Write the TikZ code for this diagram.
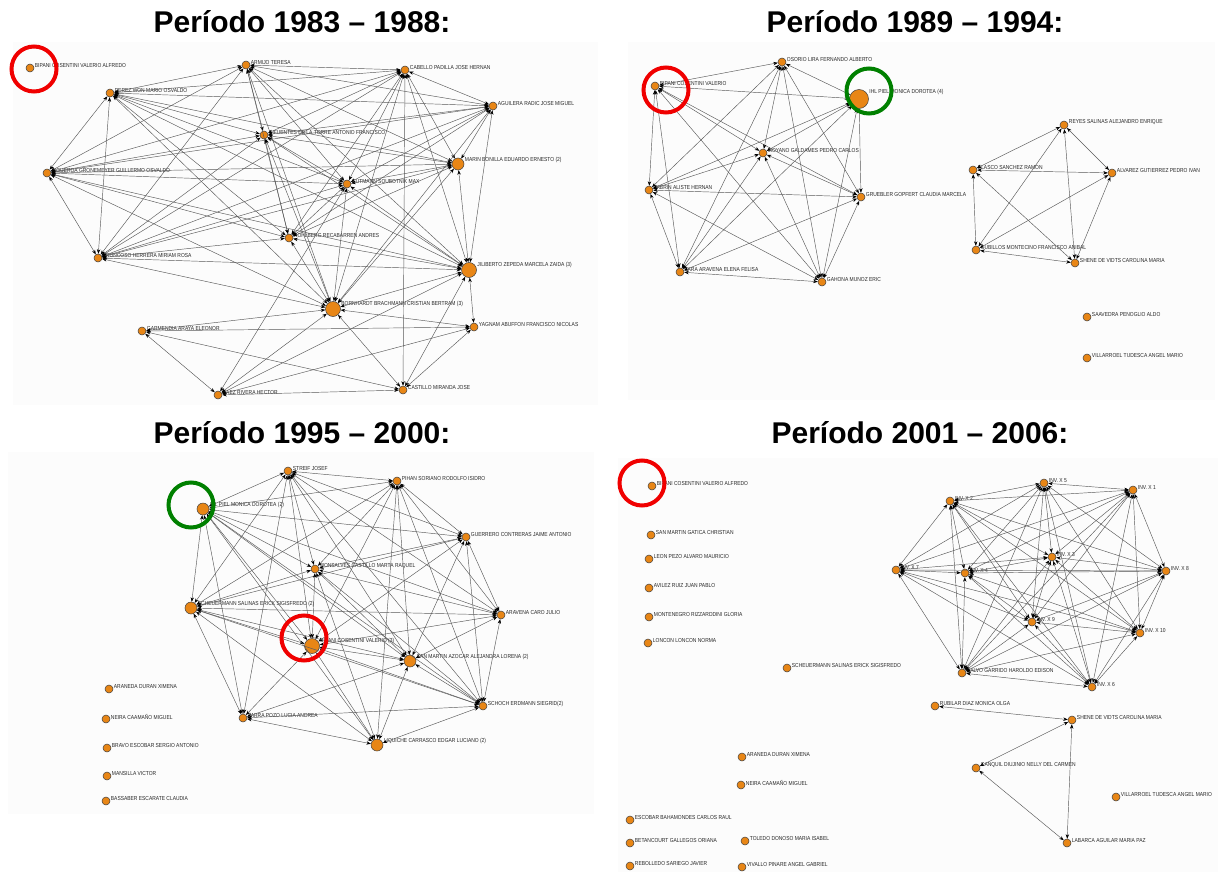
\documentclass[tikz,border=0pt]{standalone}
\usepackage{fontspec}
\setmainfont{Liberation Sans}
\newfontfamily\lblfont[FakeStretch=0.85]{Liberation Sans}
\usetikzlibrary{arrows.meta}
\definecolor{nodeorange}{RGB}{232,134,22}
\definecolor{ringred}{RGB}{240,0,0}
\definecolor{ringgreen}{RGB}{0,128,0}
\tikzset{
  actor/.style={circle, draw=black!75, fill=nodeorange, line width=0.5pt, inner sep=0pt},
  lbl/.style={font=\lblfont\fontsize{5.8}{6}\selectfont, inner sep=0.5pt, text=black!85},
  pt/.style={actor, minimum size=8pt, label={[lbl, yshift=2.5pt]east:#1}},
  ptb/.style={actor, minimum size=12pt, label={[lbl, yshift=4pt]east:#1}},
  ptc/.style={actor, minimum size=15pt, label={[lbl, yshift=5.5pt]east:#1}},
  ptd/.style={actor, minimum size=19pt, label={[lbl, yshift=7.5pt]east:#1}},
  tie/.style={<->, >={Stealth[length=4.5pt, width=3.4pt, color=black]}, draw=black!65, line width=0.45pt},
  ring/.style={circle, draw=#1, line width=4pt, minimum size=45pt, inner sep=0pt},
  title/.style={font=\bfseries\fontsize{30}{32}\selectfont, anchor=base, inner sep=0pt}
}
\begin{document}
\begin{tikzpicture}[x=1pt, y=-1pt]
  \useasboundingbox (0,0) rectangle (1220,872);
  \fill[black!1.2] (13,42) rectangle (598,405);
  \fill[black!1.2] (628,42) rectangle (1215,400);
  \fill[black!1.2] (8,452) rectangle (594,814);
  \fill[black!1.2] (618,458) rectangle (1218,872);

  \node[title] (t1) at (302,33) {Período 1983 – 1988:};
  \node[title] (t2) at (915,33) {Período 1989 – 1994:};
  \node[title] (t3) at (302,443) {Período 1995 – 2000:};
  \node[title] (t4) at (920,443) {Período 2001 – 2006:};

  % 1983 - 1988
  \node[pt=BIPANI COSENTINI VALERIO ALFREDO] (a1) at (30,68) {};
  \node[pt=ARMIJO  TERESA] (a2) at (246,65) {};
  \node[pt=CABELLO PADILLA JOSE HERNAN] (a3) at (405,70) {};
  \node[pt=AGUILERA RADIC JOSE MIGUEL] (a4) at (493,106) {};
  \node[pt=PEREZ WON MARIO OSVALDO] (a5) at (110,93) {};
  \node[pt=CIFUENTES DE LA TORRE  ANTONIO FRANCISCO] (a6) at (264,135) {};
  \node[ptb=MARIN BONILLA EDUARDO ERNESTO (2)] (a7) at (458,164) {};
  \node[pt=FIGUEROA GRONEMEYER GUILLERMO OSVALDO] (a8) at (47,173) {};
  \node[pt=GUTMANN SOUBOTNIK MAX] (a9) at (347,184) {};
  \node[pt=HOHLBERG RECABARREN ANDRES] (a10) at (289,238) {};
  \node[pt=TRONCOSO HERRERA MIRIAM ROSA] (a11) at (98,258) {};
  \node[ptc=JILIBERTO ZEPEDA MARCELA ZAIDA (3)] (a12) at (469,270) {};
  \node[ptc=BORNHARDT BRACHMANN CRISTIAN BERTRAM (3)] (a13) at (333,309) {};
  \node[pt=GARMENDIA ARAYA ELEONOR] (a14) at (142,331) {};
  \node[pt=YAGNAM ABUFFON FRANCISCO NICOLAS] (a15) at (474,327) {};
  \node[pt=SAEZ RIVERA  HECTOR] (a16) at (218,395) {};
  \node[pt=CASTILLO MIRANDA JOSE] (a17) at (403,390) {};
  \foreach \i [evaluate=\i as \k using int(\i+1)] in {2,...,12}
    \foreach \j in {\k,...,13}
      \draw[tie] (a\i) to (a\j);
  \foreach \u/\v in {a14/a13, a14/a15, a14/a17, a14/a16, a15/a12, a15/a13, a15/a16,
      a15/a17, a16/a13, a16/a17, a16/a12, a16/a9, a17/a13, a17/a12, a17/a3}
    \draw[tie] (\u) to (\v);

  % 1989 - 1994
  \node[pt=BIPANI COSENTINI VALERIO] (b1) at (655,86) {};
  \node[pt=OSORIO LIRA FERNANDO ALBERTO] (b2) at (782,62) {};
  \node[ptd=IHL PIEL MONICA DOROTEA (4)] (b3) at (859,99) {};
  \node[pt=MOYANO GALDAMES PEDRO CARLOS] (b4) at (763,153) {};
  \node[pt=LABRIN ALISTE HERNAN] (b5) at (649,190) {};
  \node[pt=GRUEBLER GOPFERT CLAUDIA MARCELA] (b6) at (861,197) {};
  \node[pt=LARA ARAVENA ELENA FELISA] (b7) at (680,272) {};
  \node[pt=GAHONA MUNOZ ERIC] (b8) at (822,282) {};
  \node[pt=REYES SALINAS ALEJANDRO ENRIQUE] (b9) at (1064,125) {};
  \node[pt=BLASCO SANCHEZ RAMON] (b10) at (973,170) {};
  \node[pt=ALVAREZ GUTIERREZ PEDRO IVAN] (b11) at (1112,173) {};
  \node[pt=CUBILLOS MONTECINO FRANCISCO ANIBAL] (b12) at (976,250) {};
  \node[pt=SHENE DE VIDTS CAROLINA MARIA] (b13) at (1075,263) {};
  \node[pt=SAAVEDRA PENOGLIO ALDO] (b14) at (1087,317) {};
  \node[pt=VILLARROEL TUDESCA ANGEL MARIO] (b15) at (1087,358) {};
  \foreach \i [evaluate=\i as \k using int(\i+1)] in {1,...,7}
    \foreach \j in {\k,...,8}
      \draw[tie] (b\i) to (b\j);
  \foreach \i [evaluate=\i as \k using int(\i+1)] in {9,...,12}
    \foreach \j in {\k,...,13}
      \draw[tie] (b\i) to (b\j);

  % 1995 - 2000
  \node[pt=STREIF  JOSEF] (c1) at (288,471) {};
  \node[pt=PIHAN SORIANO RODOLFO ISIDRO] (c2) at (397,481) {};
  \node[ptb=IHL PIEL  MONICA DOROTEA (2)] (c3) at (203,509) {};
  \node[pt=GUERRERO CONTRERAS JAIME ANTONIO] (c4) at (466,537) {};
  \node[pt=MONSALVES CASTILLO  MARTA RAQUEL] (c5) at (315,569) {};
  \node[ptb=SCHEUERMANN SALINAS ERICK SIGISFREDO (2)] (c6) at (191,608) {};
  \node[pt=ARAVENA CARO JULIO] (c7) at (501,615) {};
  \node[ptc=BIPANI COSENTINI VALERIO (3)] (c8) at (312,646) {};
  \node[ptb=SAN MARTIN AZOCAR ALEJANDRA LORENA (2)] (c9) at (410,661) {};
  \node[pt=SCHOCH ERDMANN SIEGRID(2)] (c10) at (483,706) {};
  \node[pt=PARRA POZO LUCIA ANDREA] (c11) at (243,718) {};
  \node[ptb=LIQUICHE CARRASCO EDGAR LUCIANO (2)] (c12) at (377,745) {};
  \node[pt=ARANEDA DURAN XIMENA] (c13) at (109,689) {};
  \node[pt=NEIRA CAAMAÑO MIGUEL] (c14) at (106,719) {};
  \node[pt=BRAVO ESCOBAR SERGIO ANTONIO] (c15) at (107,748) {};
  \node[pt=MANSILLA  VICTOR] (c16) at (107,776) {};
  \node[pt=BASSABER ESCARATE  CLAUDIA] (c17) at (106,801) {};
  \foreach \i [evaluate=\i as \k using int(\i+1)] in {1,...,9}
    \foreach \j in {\k,...,10}
      \draw[tie] (c\i) to (c\j);
  \foreach \u/\v in {c11/c1, c11/c3, c11/c6, c11/c8, c11/c9, c11/c10, c11/c12,
      c12/c2, c12/c3, c12/c5, c12/c6, c12/c8, c12/c9, c12/c10}
    \draw[tie] (\u) to (\v);

  % 2001 - 2006
  \node[pt=BIPANI COSENTINI VALERIO ALFREDO] (d1) at (652,486) {};
  \node[pt=SAN MARTIN GATICA CHRISTIAN] (d2) at (651,535) {};
  \node[pt=LEON PEZO ALVARO MAURICIO] (d3) at (649,559) {};
  \node[pt=AVILEZ RUIZ JUAN PABLO] (d4) at (649,588) {};
  \node[pt=MONTENEGRO RIZZARDDINI GLORIA] (d5) at (649,617) {};
  \node[pt=LONCON LONCON NORMA] (d6) at (648,643) {};
  \node[pt=SCHEUERMANN SALINAS ERICK SIGISFREDO] (d7) at (787,668) {};
  \node[pt=INV. X 7] (d8) at (896,570) {};
  \node[pt=INV. X 2] (d9) at (950,501) {};
  \node[pt=INV. X 5] (d10) at (1044,483) {};
  \node[pt=INV. X 1] (d11) at (1133,490) {};
  \node[pt=INV. X 3] (d12) at (1052,557) {};
  \node[pt=INV. X 4] (d13) at (965,573) {};
  \node[pt=INV. X 8] (d14) at (1166,571) {};
  \node[pt=INV. X 9] (d15) at (1032,622) {};
  \node[pt=INV. X 10] (d16) at (1140,633) {};
  \node[pt=SALVO GARRIDO HAROLDO EDISON] (d17) at (962,673) {};
  \node[pt=INV. X 6] (d18) at (1092,687) {};
  \node[pt=RUBILAR DIAZ MONICA OLGA] (d19) at (935,706) {};
  \node[pt=SHENE DE VIDTS CAROLINA MARIA] (d20) at (1072,720) {};
  \node[pt=CANQUIL DIUJINIO NELLY DEL CARMEN] (d21) at (976,768) {};
  \node[pt=LABARCA AGUILAR MARIA PAZ] (d22) at (1067,843) {};
  \node[pt=VILLARROEL TUDESCA ANGEL MARIO] (d23) at (1116,797) {};
  \node[pt=ARANEDA DURAN XIMENA] (d24) at (742,757) {};
  \node[pt=NEIRA CAAMAÑO MIGUEL] (d25) at (741,785) {};
  \node[pt=ESCOBAR BAHAMONDES CARLOS RAUL] (d26) at (630,820) {};
  \node[pt=BETANCOURT GALLEGOS ORIANA] (d27) at (630,843) {};
  \node[pt=REBOLLEDO SARIEGO JAVIER] (d28) at (630,866) {};
  \node[pt=TOLEDO DONOSO MARIA ISABEL] (d29) at (745,841) {};
  \node[pt=VIVALLO PINARE  ANGEL GABRIEL] (d30) at (742,867) {};
  \foreach \i [evaluate=\i as \k using int(\i+1)] in {8,...,17}
    \foreach \j in {\k,...,18}
      \draw[tie] (d\i) to (d\j);
  \foreach \u/\v in {d19/d20, d21/d20, d21/d22, d20/d22}
    \draw[tie] (\u) to (\v);

  % highlighted actors
  \node[ring=ringred] (r1) at (34,69) {};
  \node[ring=ringred] (r2) at (666,90) {};
  \node[ring=ringred] (r3) at (304,638) {};
  \node[ring=ringred] (r4) at (642,483) {};
  \node[ring=ringgreen] (g1) at (869,91) {};
  \node[ring=ringgreen] (g2) at (191,505) {};
\end{tikzpicture}
\end{document}
